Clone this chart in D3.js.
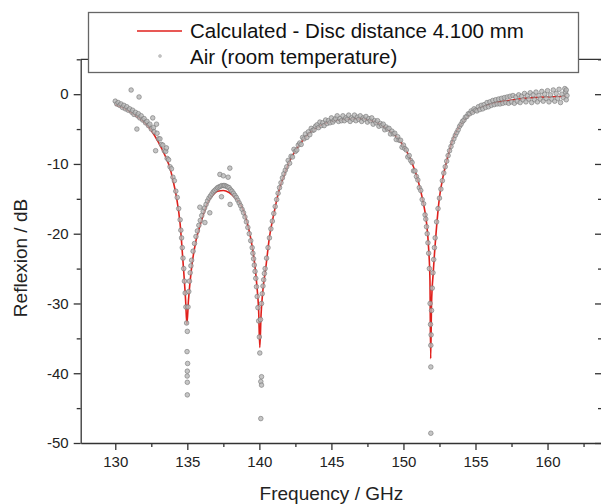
<!DOCTYPE html>
<html><head><meta charset="utf-8">
<script src="https://cdn.jsdelivr.net/npm/d3@7"></script>
<style>body{margin:0;background:#fff;} svg{display:block;} text{font-family:"Liberation Sans",Arial,sans-serif;}</style>
</head><body><svg id="chart" width="601" height="504"></svg>
<script>
// Calculated curve (GHz, dB)
const calcFreq = [130.0,130.5,131.0,131.5,132.0,132.5,133.0,133.5,133.8,134.0,134.25,134.5,134.7,134.88,134.97,135.08,135.3,135.6,135.9,136.2,136.5,136.8,137.1,137.5,137.9,138.3,138.7,139.0,139.25,139.5,139.7,139.85,139.95,140.03,140.12,140.25,140.45,140.7,141.0,141.4,141.8,142.1,142.7,143.3,143.9,144.4,145.2,146.0,146.8,147.6,148.3,149.0,149.6,150.2,150.6,150.9,151.2,151.4,151.6,151.75,151.84,151.89,151.95,152.07,152.26,152.5,152.75,153.0,153.46,153.9,154.4,154.9,155.5,156.2,157.0,158.0,159.0,160.0,161.3];
const calcDb = [-1.5,-1.9,-2.5,-3.2,-4.0,-5.2,-6.9,-9.0,-10.6,-12.3,-14.8,-18.6,-24.0,-29.5,-33.0,-29.5,-24.8,-21.0,-18.7,-16.7,-15.2,-14.4,-13.9,-13.8,-14.1,-14.8,-15.8,-17.3,-19.2,-21.8,-24.8,-28.0,-31.0,-36.3,-31.5,-28.0,-24.8,-20.5,-17.2,-13.5,-11.2,-9.6,-7.5,-5.9,-4.9,-4.3,-3.8,-3.6,-3.5,-3.7,-4.2,-5.2,-6.3,-8.1,-9.9,-11.6,-13.9,-15.8,-18.4,-22.2,-26.7,-37.9,-30.0,-25.5,-20.0,-14.8,-11.8,-9.6,-6.3,-4.6,-3.3,-2.4,-1.8,-1.3,-1.0,-0.7,-0.5,-0.4,-0.3];

// Measured points (GHz, dB)
const measured = [
[130.0,-1.0],[130.1,-1.4],[130.2,-1.2],[130.3,-1.6],[130.4,-1.4],[130.5,-1.9],[130.6,-1.6],[130.7,-2.1],[130.8,-1.8],[130.9,-2.3],
[131.0,-2.1],[131.1,0.6],[131.15,-2.6],[131.2,-2.3],[131.3,-2.9],[131.4,-2.6],[131.5,-5.0],[131.55,-3.1],[131.6,-2.8],[131.65,-0.4],
[131.7,-3.4],[131.8,-3.1],[131.9,-3.7],[132.0,-3.5],[132.1,-4.1],[132.2,-3.9],[132.3,-4.5],[132.4,-4.3],[132.5,-5.0],[132.6,-3.4],
[132.65,-4.8],[132.7,-5.4],[132.8,-8.1],[132.86,-4.3],[132.9,-5.6],[133.0,-6.4],[133.1,-6.4],[133.2,-7.2],[133.3,-7.3],[133.4,-8.1],
[133.5,-8.2],[133.55,-7.7],[133.6,-9.2],[133.7,-9.4],[133.8,-10.4],[133.9,-10.7],[134.0,-11.9],[134.1,-12.4],[134.2,-13.9],[134.3,-14.8],
[134.4,-16.4],[134.5,-18.0],[134.55,-19.5],[134.6,-20.6],[134.65,-22.0],[134.7,-23.5],[134.75,-25.0],[134.8,-26.8],[134.85,-28.5],[134.9,-30.5],
[134.95,-32.8],[135.0,-34.0],[134.98,-36.9],[135.02,-38.6],[135.0,-39.7],[134.99,-40.4],[135.0,-41.3],[135.0,-43.1],[135.05,-30.5],[135.1,-28.3],
[135.15,-26.8],[135.2,-25.6],[135.25,-24.6],[135.3,-23.8],[135.4,-22.5],[135.5,-21.4],[135.6,-20.4],[135.7,-19.6],[135.8,-18.8],[135.87,-16.2],
[135.9,-18.1],[136.0,-17.4],[136.1,-16.8],[136.2,-16.3],[136.22,-18.4],[136.3,-15.8],[136.4,-15.3],[136.5,-14.9],[136.56,-17.0],[136.6,-14.6],
[136.7,-14.3],[136.8,-14.0],[136.9,-13.8],[137.0,-13.6],[137.1,-13.4],[137.2,-13.3],[137.26,-11.5],[137.3,-13.2],[137.37,-14.7],[137.4,-13.1],
[137.5,-11.7],[137.52,-13.1],[137.6,-13.1],[137.7,-13.2],[137.8,-13.3],[137.83,-11.9],[137.9,-13.4],[137.95,-10.6],[137.97,-15.8],[138.0,-13.7],
[138.1,-13.9],[138.2,-14.2],[138.3,-14.5],[138.4,-14.8],[138.5,-15.2],[138.6,-15.6],[138.7,-16.0],[138.8,-16.5],[138.9,-17.0],[139.0,-17.6],
[139.1,-18.3],[139.2,-19.1],[139.3,-20.0],[139.4,-21.0],[139.5,-22.0],[139.55,-22.8],[139.6,-23.6],[139.65,-24.5],[139.7,-25.4],[139.75,-26.4],
[139.8,-27.6],[139.85,-29.0],[139.9,-30.6],[139.95,-32.5],[140.0,-34.8],[140.03,-37.1],[140.08,-32.3],[140.15,-40.5],[140.1,-41.2],[140.15,-41.7],
[140.1,-46.5],[140.15,-30.0],[140.2,-28.6],[140.25,-27.5],[140.3,-26.6],[140.35,-25.7],[140.4,-25.0],[140.5,-23.5],[140.6,-22.0],[140.7,-20.6],
[140.8,-19.3],[140.9,-18.2],[141.0,-17.1],[141.1,-16.1],[141.2,-15.1],[141.3,-14.2],[141.4,-13.4],[141.5,-12.7],[141.6,-12.0],[141.7,-11.4],
[141.8,-10.9],[141.9,-10.4],[142.0,-9.5],[142.1,-9.9],[142.2,-8.9],[142.3,-9.0],[142.4,-7.9],[142.5,-8.2],[142.6,-8.0],[142.7,-7.3],
[142.8,-7.0],[142.9,-7.2],[143.0,-6.2],[143.1,-6.4],[143.2,-5.7],[143.3,-6.2],[143.4,-5.4],[143.5,-5.8],[143.6,-4.9],[143.7,-5.2],
[143.8,-5.1],[143.9,-4.6],[144.0,-4.4],[144.1,-4.8],[144.2,-4.0],[144.3,-4.5],[144.4,-4.1],[144.5,-4.5],[144.6,-3.7],[144.7,-4.2],
[144.8,-3.8],[144.9,-4.1],[145.0,-3.4],[145.1,-4.0],[145.2,-3.7],[145.3,-3.5],[145.4,-3.1],[145.5,-3.9],[145.6,-3.5],[145.7,-3.8],
[145.8,-3.1],[145.9,-3.8],[146.0,-3.4],[146.1,-3.6],[146.2,-3.0],[146.3,-3.9],[146.4,-3.4],[146.5,-3.6],[146.6,-3.0],[146.7,-3.8],
[146.8,-3.3],[146.9,-3.6],[147.0,-3.1],[147.1,-3.9],[147.2,-3.4],[147.3,-3.6],[147.4,-3.2],[147.5,-4.0],[147.6,-3.5],[147.7,-3.8],
[147.8,-3.4],[147.9,-4.3],[148.0,-3.8],[148.1,-4.1],[148.2,-3.8],[148.3,-4.6],[148.4,-4.2],[148.5,-4.5],[148.6,-4.3],[148.7,-5.1],
[148.8,-4.7],[148.9,-5.0],[149.0,-4.9],[149.1,-5.7],[149.2,-5.3],[149.3,-5.7],[149.4,-5.6],[149.5,-6.5],[149.6,-6.1],[149.7,-6.6],
[149.8,-6.6],[149.9,-7.6],[150.0,-7.3],[150.1,-7.8],[150.2,-8.0],[150.3,-9.0],[150.4,-8.8],[150.5,-9.5],[150.6,-9.8],[150.7,-11.0],
[150.8,-11.0],[150.9,-11.8],[151.0,-12.3],[151.1,-13.4],[151.2,-13.8],[151.3,-15.1],[151.4,-15.7],[151.5,-17.3],[151.55,-17.9],[151.6,-19.0],
[151.65,-20.0],[151.7,-21.3],[151.75,-22.8],[151.8,-25.0],[151.85,-30.0],[151.88,-33.0],[151.9,-36.0],[151.9,-39.1],[151.9,-48.6],[151.92,-34.5],
[151.95,-31.0],[152.0,-27.8],[152.05,-25.6],[152.1,-23.7],[152.15,-22.0],[152.2,-20.6],[152.3,-18.3],[152.4,-16.4],[152.5,-14.9],[152.6,-13.6],
[152.7,-12.4],[152.8,-11.3],[152.9,-10.4],[153.0,-9.6],[153.1,-8.8],[153.2,-8.1],[153.3,-7.5],[153.4,-6.9],[153.5,-6.4],[153.6,-5.9],
[153.7,-5.5],[153.8,-5.1],[153.9,-4.6],[154.0,-4.3],[154.1,-3.9],[154.2,-3.7],[154.3,-3.3],[154.4,-3.2],[154.5,-2.8],[154.6,-2.8],
[154.7,-2.4],[154.8,-2.6],[154.9,-2.1],[155.0,-2.3],[155.1,-2.4],[155.2,-1.8],[155.3,-2.2],[155.4,-1.6],[155.5,-2.1],[155.6,-1.5],
[155.7,-1.9],[155.8,-1.2],[155.9,-1.8],[156.0,-1.1],[156.1,-1.6],[156.2,-0.9],[156.3,-1.5],[156.4,-0.8],[156.5,-1.4],[156.6,-0.7],
[156.7,-1.4],[156.8,-0.6],[156.9,-1.3],[157.0,-0.5],[157.1,-1.2],[157.2,-0.4],[157.3,-1.3],[157.4,-0.3],[157.5,-1.1],[157.6,-0.2],
[157.7,-1.3],[157.8,-0.4],[157.9,-1.0],[158.0,-0.1],[158.1,-1.2],[158.2,-0.3],[158.3,-0.8],[158.4,0.1],[158.5,-1.1],[158.6,-0.2],
[158.7,-0.7],[158.8,0.2],[158.9,-1.2],[159.0,-0.1],[159.1,-0.8],[159.2,0.3],[159.3,-1.1],[159.4,-0.2],[159.5,-0.7],[159.6,0.4],
[159.7,-1.0],[159.8,0.0],[159.9,-0.6],[160.0,0.5],[160.1,-1.1],[160.2,-0.1],[160.3,-0.7],[160.4,0.6],[160.5,-1.0],[160.6,0.1],
[160.7,-0.6],[160.8,0.7],[160.9,-1.2],[161.0,0.0],[161.1,-0.5],[161.2,0.8],[161.3,-0.8],[161.25,0.3],[161.35,-0.2],[161.3,0.6]
];

const xTickValues = [130,135,140,145,150,155,160];
const xMinorTicks = [132.5,137.5,142.5,147.5,152.5,157.5,162.5];
const yTickValues = [-50,-40,-30,-20,-10,0];
const yMinorTicks = [-45,-35,-25,-15,-5,5];
const legendLabels = ["Calculated - Disc distance 4.100 mm","Air (room temperature)"];
const xTitle = "Frequency / GHz";
const yTitle = "Reflexion / dB";

const svg = d3.select("#chart");
const L = 80.7, R = 602, T = 59.3, B = 443;
const x = d3.scaleLinear().domain([127.6, 163.78]).range([L, R]);
const y = d3.scaleLinear().domain([-50, 5]).range([B, T]);
const axisColor = "#333";

function styleAxis(g){
  g.selectAll("path").attr("stroke", axisColor).attr("stroke-width", 1.3);
  g.selectAll("line").attr("stroke", axisColor).attr("stroke-width", 1.3);
  g.selectAll("text").attr("fill", "#222").style("font-size", "15px").style("font-family", '"Liberation Sans", Arial, sans-serif');
}

// bottom axis
const gx = svg.append("g").attr("transform", `translate(0,${B})`)
  .call(d3.axisBottom(x).tickValues(xTickValues).tickSize(7).tickSizeOuter(0).tickPadding(6).tickFormat(d => String(d)));
styleAxis(gx);
const gxm = svg.append("g").attr("transform", `translate(0,${B})`)
  .call(d3.axisBottom(x).tickValues(xMinorTicks).tickSize(4).tickFormat(""));
gxm.select(".domain").remove(); styleAxis(gxm);

// left axis
const gy = svg.append("g").attr("transform", `translate(${L},0)`)
  .call(d3.axisLeft(y).tickValues(yTickValues).tickSize(7).tickSizeOuter(0).tickPadding(5).tickFormat(d => String(d)));
styleAxis(gy);
const gym = svg.append("g").attr("transform", `translate(${L},0)`)
  .call(d3.axisLeft(y).tickValues(yMinorTicks).tickSize(4).tickFormat(""));
gym.select(".domain").remove(); styleAxis(gym);

// right axis (inward ticks)
const gr = svg.append("g").attr("transform", `translate(${R},0)`)
  .call(d3.axisLeft(y).tickValues(yTickValues).tickSize(7).tickSizeOuter(0).tickFormat(""));
styleAxis(gr);
const grm = svg.append("g").attr("transform", `translate(${R},0)`)
  .call(d3.axisLeft(y).tickValues(yMinorTicks).tickSize(4).tickFormat(""));
grm.select(".domain").remove(); styleAxis(grm);

// top axis line
svg.append("line").attr("x1", L).attr("x2", R).attr("y1", T).attr("y2", T)
  .attr("stroke", axisColor).attr("stroke-width", 1.3);

// axis titles
svg.append("text").attr("x", x(145)).attr("y", 500).attr("text-anchor", "middle")
  .style("font-size", "19px").attr("fill", "#222").text(xTitle);
svg.append("text").attr("transform", "translate(26.5,258) rotate(-90)").attr("text-anchor", "middle")
  .style("font-size", "19px").attr("fill", "#222").text(yTitle);

// calculated line
const calcData = calcFreq.map((f, i) => [f, calcDb[i]]);
const line = d3.line().x(d => x(d[0])).y(d => y(d[1])).curve(d3.curveMonotoneX);
svg.append("path").datum(calcData).attr("d", line)
  .attr("fill", "none").attr("stroke", "#e0201c").attr("stroke-width", 1.6);

// measured points
svg.append("g").selectAll("circle").data(measured).join("circle")
  .attr("cx", d => x(d[0])).attr("cy", d => y(d[1])).attr("r", 2.3)
  .attr("fill", "#b8b8b8").attr("fill-opacity", 0.8)
  .attr("stroke", "#777").attr("stroke-width", 0.7).attr("stroke-opacity", 0.9);

// legend
const lg = svg.append("g");
lg.append("rect").attr("x", 88.5).attr("y", 12.5).attr("width", 490).attr("height", 60)
  .attr("fill", "#fff").attr("stroke", "#666").attr("stroke-width", 1.3);
lg.append("line").attr("x1", 137).attr("x2", 182).attr("y1", 31).attr("y2", 31)
  .attr("stroke", "#e0201c").attr("stroke-width", 1.6);
lg.append("circle").attr("cx", 160).attr("cy", 56).attr("r", 1.5)
  .attr("fill", "#c4c4c4").attr("stroke", "#aaa").attr("stroke-width", 0.5);
lg.append("text").attr("x", 190).attr("y", 37.5).style("font-size", "20.5px").attr("fill", "#111").text(legendLabels[0]);
lg.append("text").attr("x", 190).attr("y", 64).style("font-size", "20.5px").attr("fill", "#111").text(legendLabels[1]);
</script></body></html>
